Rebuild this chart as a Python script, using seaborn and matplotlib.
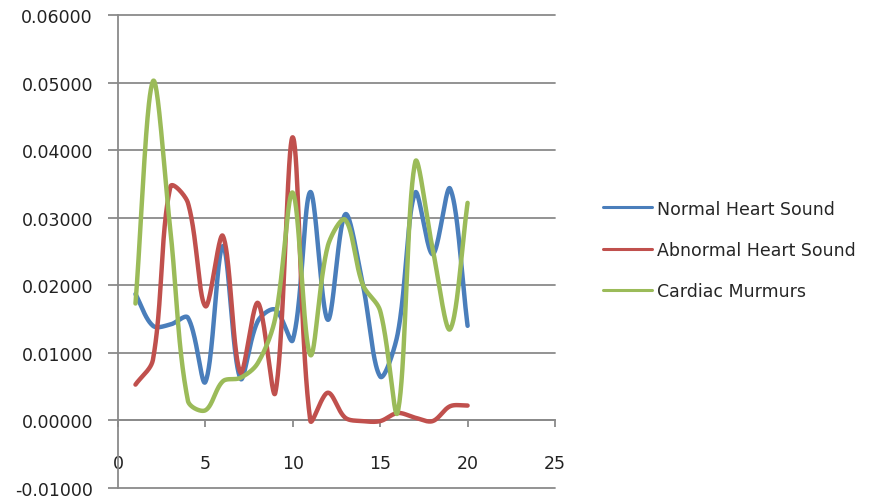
import numpy as np
import pandas as pd
import matplotlib
matplotlib.use("Agg")
import matplotlib.pyplot as plt
import seaborn as sns
from matplotlib.lines import Line2D

# Sample index and per-sample values for each heart-sound class
samples = list(range(1, 21))
normal_heart = [0.0187, 0.0140, 0.0142, 0.0152, 0.0057, 0.0258, 0.0062, 0.0147, 0.0164, 0.0119,
                0.0338, 0.0149, 0.0305, 0.0202, 0.0065, 0.0128, 0.0337, 0.0246, 0.0343, 0.0140]
abnormal_heart = [0.0053, 0.0090, 0.0346, 0.0322, 0.0169, 0.0273, 0.0071, 0.0174, 0.0041, 0.0419,
                  0.0000, 0.0041, 0.0004, -0.0001, -0.0001, 0.0011, 0.0004, -0.0001, 0.0021, 0.0022]
cardiac_murmurs = [0.0173, 0.0502, 0.0280, 0.0029, 0.0015, 0.0058, 0.0063, 0.0085, 0.0152, 0.0337,
                   0.0097, 0.0258, 0.0297, 0.0201, 0.0162, 0.0012, 0.0382, 0.0254, 0.0135, 0.0322]

series_names = ["Normal Heart Sound", "Abnormal Heart Sound", "Cardiac Murmurs"]
series_values = [normal_heart, abnormal_heart, cardiac_murmurs]
series_colors = ["#4A7EBB", "#C0504D", "#9BBB59"]

y_ticks = [-0.01, 0.0, 0.01, 0.02, 0.03, 0.04, 0.05, 0.06]
x_ticks = [0, 5, 10, 15, 20, 25]

sns.set_theme(style="white")
plt.rcParams["font.family"] = ["DejaVu Sans"]

fig = plt.figure(figsize=(8.81, 5.02), dpi=100)
ax = fig.add_axes([118 / 881, 13 / 502, (555 - 118) / 881, (489 - 16) / 502])
ax.set_xlim(0, 25)
ax.set_ylim(-0.01, 0.06)


def smooth_curve(xs, ys, steps=40):
    """Bezier smoothing through every point; tangents are split in proportion
    to the on-screen lengths of the neighbouring segments to limit overshoot."""
    pts = ax.transData.transform(np.column_stack([xs, ys]).astype(float))
    n = len(pts)
    c_after = np.zeros_like(pts)
    c_before = np.zeros_like(pts)
    for i in range(n):
        prev_p = pts[i - 1] if i > 0 else pts[i]
        next_p = pts[i + 1] if i < n - 1 else pts[i]
        tangent = next_p - prev_p
        d_prev = np.hypot(*(pts[i] - prev_p))
        d_next = np.hypot(*(next_p - pts[i]))
        total = d_prev + d_next
        if total == 0:
            c_after[i] = c_before[i] = pts[i]
            continue
        c_after[i] = pts[i] + tangent * (d_next / total) / 3
        c_before[i] = pts[i] - tangent * (d_prev / total) / 3
    t = np.linspace(0, 1, steps)[:, None]
    segs = []
    for i in range(n - 1):
        p0, c1, c2, p3 = pts[i], c_after[i], c_before[i + 1], pts[i + 1]
        b = (1 - t) ** 3 * p0 + 3 * (1 - t) ** 2 * t * c1 + 3 * (1 - t) * t ** 2 * c2 + t ** 3 * p3
        segs.append(b if i == 0 else b[1:])
    disp = np.vstack(segs)
    data = ax.transData.inverted().transform(disp)
    return data[:, 0], data[:, 1]


frames = []
for name, vals in zip(series_names, series_values):
    sx, sy = smooth_curve(samples, vals)
    frames.append(pd.DataFrame({"x": sx, "y": sy, "series": name}))
curves = pd.concat(frames, ignore_index=True)

grid_color = "#8A8A8A"
for yv in y_ticks:
    ax.axhline(yv, color=grid_color, lw=1.3, zorder=0, clip_on=False)

sns.lineplot(data=curves, x="x", y="y", hue="series", hue_order=series_names,
             palette=dict(zip(series_names, series_colors)), sort=False,
             estimator=None, units="series", lw=3.2, legend=False, ax=ax, zorder=3)

ax.set_xlim(0, 25)
ax.set_ylim(-0.01, 0.06)
ax.set_xticks(x_ticks)
ax.set_xticklabels([str(v) for v in x_ticks])
ax.set_yticks(y_ticks)
ax.set_yticklabels([f"{v:.5f}" for v in y_ticks])
ax.set_xlabel("")
ax.set_ylabel("")

for side in ["top", "right"]:
    ax.spines[side].set_visible(False)
ax.spines["bottom"].set_position(("data", 0))
ax.spines["left"].set_position(("data", 0))
for side in ["bottom", "left"]:
    ax.spines[side].set_color(grid_color)
    ax.spines[side].set_linewidth(1.3)

ax.tick_params(axis="y", direction="out", length=7, width=1.3, color=grid_color,
               labelsize=12.5, pad=11, labelcolor="#222222", left=True)
ax.tick_params(axis="x", direction="out", length=5, width=1.3, color=grid_color,
               labelsize=12.5, pad=19, labelcolor="#222222", bottom=True)

handles = [Line2D([], [], color=c, lw=2.2) for c in series_colors]
fig.legend(handles, series_names, loc="center left", bbox_to_anchor=(603 / 881, 0.5),
           frameon=False, fontsize=12.5, handlelength=2.8, handletextpad=0.3,
           labelspacing=1.35, borderpad=0, borderaxespad=0)

fig.savefig("out.png", dpi=100)
